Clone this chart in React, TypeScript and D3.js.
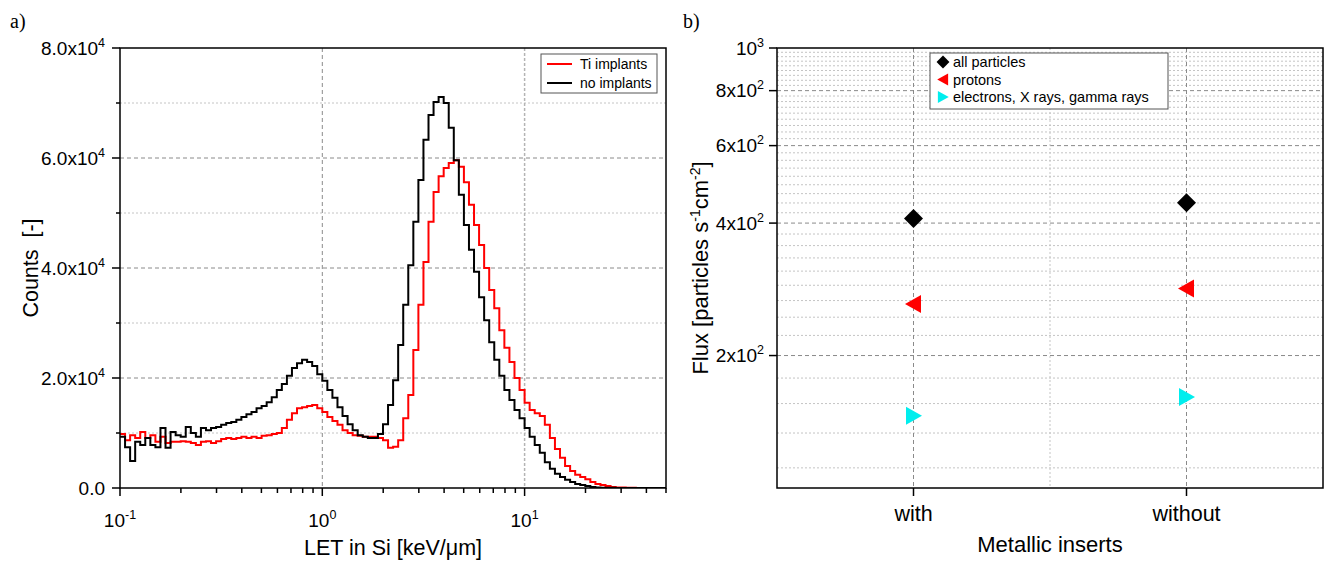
import React from "react";
import * as d3 from "d3";

// LET histogram, log bins of 0.025 decade starting at 0.1 keV/um
const binStart = 0.1;
const binStep = 0.025;
const noImplants = [
  9300, 7400, 4900, 8400, 7800, 9100, 7800, 7400, 10900, 7300,
  10200, 9600, 9300, 11100, 10000, 9300, 10900, 10500, 10900, 11100,
  11500, 11800, 12000, 12400, 12900, 13400, 13800, 14500, 14900, 15600,
  16500, 17800, 18900, 20400, 21800, 22700, 23300, 22900, 22200, 20700,
  19500, 17800, 16400, 14700, 13100, 11600, 10500, 9600, 9300, 9100,
  9100, 9800, 11600, 15100, 19600, 26000, 33300, 40500, 48400, 56000,
  63300, 67800, 70200, 71100, 70000, 65500, 59600, 53300, 47800, 43300,
  39300, 34700, 30500, 26500, 23300, 20400, 17800, 16000, 14200, 12700,
  10900, 9300, 7800, 6400, 4700, 3500, 2600, 2000, 1500, 1100,
  730, 550, 360, 200, 100, 60, 40, 25, 15, 10,
  6, 4, 3, 2, 1, 1, 0, 0,
];
const tiImplants = [
  9800, 8700, 9600, 9100, 10200, 9100, 9600, 8400, 9300, 8200,
  8400, 8400, 8500, 8400, 8200, 7800, 8400, 8500, 8200, 8500,
  8900, 9100, 8900, 9100, 9300, 9100, 9300, 9100, 9500, 9600,
  9800, 10000, 10900, 12400, 13600, 14500, 14700, 14900, 15100, 14500,
  13800, 12900, 12200, 11500, 10500, 10000, 9600, 9500, 9300, 9300,
  9300, 9100, 8700, 7300, 7500, 8700, 12700, 16900, 25100, 33300,
  41100, 48400, 53800, 56700, 58200, 59100, 59600, 58400, 55600, 51500,
  47800, 44200, 40000, 36000, 32700, 28700, 25500, 22900, 20000, 17800,
  15500, 14200, 13600, 13100, 11500, 9100, 7100, 5500, 4000, 3100,
  2400, 2000, 1600, 1100, 730, 550, 360, 200, 110, 70,
  45, 30, 20, 12, 8, 5, 3, 2,
];
const histNames = ["Ti implants", "no implants"];
const histColors = ["#ff0000", "#000000"];
const countTicks = [0, 2e4, 4e4, 6e4, 8e4];
const countMinor = [1e4, 3e4, 5e4, 7e4];
const letMajor = [0.1, 1, 10];
const letLabels = ["-1", "0", "1"];

// flux panel
const categories = ["with", "without"];
const allParticles = [410, 445];
const protons = [262, 284];
const electrons = [146, 161];
const fluxNames = ["all particles", "protons", "electrons, X rays, gamma rays"];
const fluxTicks = [200, 400, 600, 800, 1000];
const fluxLabels = [["2x10", "2"], ["4x10", "2"], ["6x10", "2"], ["8x10", "2"], ["10", "3"]];

const FONT = "'Liberation Sans', Arial, sans-serif";
const SERIF = "'Liberation Serif', 'Times New Roman', serif";

const diamond = "M0,-9.5L9.5,0L0,9.5L-9.5,0Z";
const triLeft = "M-8.5,0L7.5,-9L7.5,9Z";
const triRight = "M8.5,0L-7.5,-9L-7.5,9Z";
const CYAN = "#00eeee";

export default function App() {
  // ---- left panel ----
  const L = { left: 120, right: 666, top: 48, bottom: 488 };
  const x = d3.scaleLog().domain([0.1, 50]).range([L.left, L.right]);
  const y = d3.scaleLinear().domain([0, 8e4]).range([L.bottom, L.top]);
  const edge = (i: number) => binStart * Math.pow(10, i * binStep);
  const step = d3
    .line<[number, number]>()
    .x((d) => x(d[0]))
    .y((d) => y(d[1]))
    .curve(d3.curveStepAfter);
  const histPath = (vals: number[]) => {
    const pts: [number, number][] = vals.map((v, i) => [edge(i), v]);
    pts.push([edge(vals.length), vals[vals.length - 1]]);
    return step(pts) || "";
  };
  const letMinor = x.ticks().filter((t) => !letMajor.some((m) => Math.abs(m - t) < 1e-9));

  // ---- right panel ----
  const R = { left: 777, right: 1323, top: 48, bottom: 488 };
  const rx = d3.scaleLinear().domain([0.5, 2.5]).range([R.left, R.right]);
  const ry = d3.scaleLog().domain([100, 1000]).range([R.bottom, R.top]);
  const fluxMinor: number[] = [];
  for (let k = 5; k < 45; k++) if (k % 9 !== 0) fluxMinor.push((k * 200) / 9);

  const majorGrid = { stroke: "#8a8a8a", strokeWidth: 1, strokeDasharray: "4,3" };
  const minorGrid = { stroke: "#c4c4c4", strokeWidth: 1, strokeDasharray: "2,2" };
  const lightGrid = { stroke: "#b4b4b4", strokeWidth: 1.5, strokeDasharray: "3,2" };

  return (
    <svg
      width={1329}
      height={563}
      style={{ position: "absolute", left: 0, top: 0, background: "#fff" }}
      fontFamily={FONT}
    >
      <defs>
        <clipPath id="clipL">
          <rect x={L.left} y={L.top} width={L.right - L.left} height={L.bottom - L.top} />
        </clipPath>
      </defs>

      {/* ============ a) ============ */}
      <text x={10} y={28} fontFamily={SERIF} fontSize={20}>a)</text>

      {countMinor.map((t) => (
        <line key={"gm" + t} x1={L.left} x2={L.right} y1={y(t)} y2={y(t)} {...minorGrid} />
      ))}
      {countTicks.slice(1, -1).map((t) => (
        <line key={"gM" + t} x1={L.left} x2={L.right} y1={y(t)} y2={y(t)} {...majorGrid} />
      ))}
      {letMajor.slice(1).map((t, i) => (
        <line
          key={"gx" + t}
          x1={x(t)}
          x2={x(t)}
          y1={L.top}
          y2={L.bottom}
          {...(i === 0 ? majorGrid : lightGrid)}
        />
      ))}

      <g clipPath="url(#clipL)" fill="none" strokeWidth={2} strokeLinejoin="miter">
        <path d={histPath(tiImplants)} stroke={histColors[0]} />
        <path d={histPath(noImplants)} stroke={histColors[1]} />
      </g>

      <rect
        x={L.left}
        y={L.top}
        width={L.right - L.left}
        height={L.bottom - L.top}
        fill="none"
        stroke="#000"
        strokeWidth={1.5}
      />

      {/* y axis */}
      {countTicks.map((t) => (
        <g key={"yt" + t}>
          <line x1={L.left - 8} x2={L.left} y1={y(t)} y2={y(t)} stroke="#000" strokeWidth={1.5} />
          <text x={105} y={y(t) + 6.5} textAnchor="end" fontSize={19}>
            {t === 0 ? "0.0" : `${(t / 1e4).toFixed(1)}x10`}
            {t !== 0 && (
              <tspan dy={-8} fontSize={12.5}>4</tspan>
            )}
          </text>
        </g>
      ))}
      {countMinor.map((t) => (
        <line key={"ym" + t} x1={L.left - 4} x2={L.left} y1={y(t)} y2={y(t)} stroke="#000" strokeWidth={1.5} />
      ))}

      {/* x axis */}
      {letMajor.map((t, i) => (
        <g key={"xt" + t}>
          <line x1={x(t)} x2={x(t)} y1={L.bottom} y2={L.bottom + 8} stroke="#000" strokeWidth={1.5} />
          <text x={x(t)} y={L.bottom + 39} textAnchor="middle" fontSize={19}>
            10<tspan dy={-8} fontSize={12.5}>{letLabels[i]}</tspan>
          </text>
        </g>
      ))}
      {letMinor.map((t) => (
        <line key={"xm" + t} x1={x(t)} x2={x(t)} y1={L.bottom} y2={L.bottom + 5} stroke="#000" strokeWidth={1.5} />
      ))}

      <text x={(L.left + L.right) / 2} y={555} textAnchor="middle" fontSize={21.5}>
        LET in Si [keV/μm]
      </text>
      <text
        transform={`translate(38, ${(L.top + L.bottom) / 2}) rotate(-90)`}
        textAnchor="middle"
        fontSize={21.5}
      >
        Counts{"\u00a0\u00a0"}[-]
      </text>

      {/* legend a */}
      <rect x={541} y={54} width={116} height={39} fill="#fff" stroke="#555" strokeWidth={1} />
      {histNames.map((n, i) => (
        <g key={n}>
          <line x1={547} x2={572} y1={64 + i * 19} y2={64 + i * 19} stroke={histColors[i]} strokeWidth={2} />
          <text x={580} y={69 + i * 19} fontSize={14}>{n}</text>
        </g>
      ))}

      {/* ============ b) ============ */}
      <text x={683} y={28} fontFamily={SERIF} fontSize={20}>b)</text>

      {fluxMinor.map((t) => (
        <line key={"fm" + t} x1={R.left} x2={R.right} y1={ry(t)} y2={ry(t)} {...minorGrid} />
      ))}
      {fluxTicks.slice(0, -1).map((t) => (
        <line key={"fM" + t} x1={R.left} x2={R.right} y1={ry(t)} y2={ry(t)} {...majorGrid} />
      ))}
      <line x1={rx(1.5)} x2={rx(1.5)} y1={R.top} y2={R.bottom} {...minorGrid} />
      {categories.map((c, i) => (
        <line key={"cg" + c} x1={rx(i + 1)} x2={rx(i + 1)} y1={R.top} y2={R.bottom} {...majorGrid} />
      ))}

      <rect
        x={R.left}
        y={R.top}
        width={R.right - R.left}
        height={R.bottom - R.top}
        fill="none"
        stroke="#000"
        strokeWidth={1.5}
      />

      {fluxTicks.map((t, i) => (
        <g key={"ft" + t}>
          <line x1={R.left - 8} x2={R.left} y1={ry(t)} y2={ry(t)} stroke="#000" strokeWidth={1.5} />
          <text x={764} y={ry(t) + 6.5} textAnchor="end" fontSize={19}>
            {fluxLabels[i][0]}
            <tspan dy={-8} fontSize={12.5}>{fluxLabels[i][1]}</tspan>
          </text>
        </g>
      ))}
      {categories.map((c, i) => (
        <g key={"ct" + c}>
          <line x1={rx(i + 1)} x2={rx(i + 1)} y1={R.bottom} y2={R.bottom + 8} stroke="#000" strokeWidth={1.5} />
          <text x={rx(i + 1)} y={R.bottom + 33} textAnchor="middle" fontSize={21.5}>{c}</text>
        </g>
      ))}

      <text x={(R.left + R.right) / 2} y={552} textAnchor="middle" fontSize={22}>
        Metallic inserts
      </text>
      <text
        transform={`translate(708, ${(R.top + R.bottom) / 2}) rotate(-90)`}
        textAnchor="middle"
        fontSize={22}
      >
        Flux [particles s<tspan dy={-8} fontSize={14}>-1</tspan>
        <tspan dy={8}>cm</tspan>
        <tspan dy={-8} fontSize={14}>-2</tspan>
        <tspan dy={8}>]</tspan>
      </text>

      {/* markers */}
      {categories.map((c, i) => (
        <g key={"mk" + c}>
          <path d={diamond} transform={`translate(${rx(i + 1)},${ry(allParticles[i])})`} fill="#000" />
          <path d={triLeft} transform={`translate(${rx(i + 1)},${ry(protons[i])})`} fill="#ff0000" />
          <path d={triRight} transform={`translate(${rx(i + 1)},${ry(electrons[i])})`} fill={CYAN} />
        </g>
      ))}

      {/* legend b */}
      <rect x={930} y={53} width={238} height={56} fill="#fff" stroke="#555" strokeWidth={1} />
      {fluxNames.map((n, i) => {
        const cy = 62 + i * 17.5;
        const shape = [diamond, triLeft, triRight][i];
        const col = ["#000", "#ff0000", CYAN][i];
        return (
          <g key={n}>
            <path d={shape} transform={`translate(943,${cy}) scale(0.68)`} fill={col} />
            <text x={953} y={cy + 5} fontSize={14.5}>{n}</text>
          </g>
        );
      })}
    </svg>
  );
}
